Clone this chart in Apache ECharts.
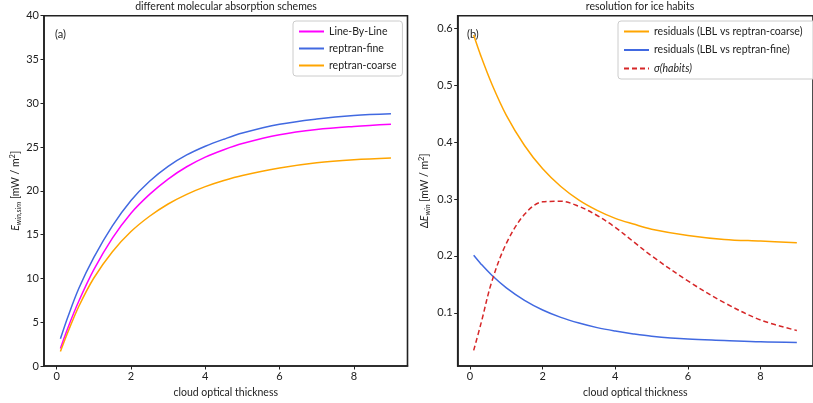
<!DOCTYPE html>
<html>
<head>
<meta charset="utf-8">
<script src="https://cdn.jsdelivr.net/npm/echarts@6/dist/echarts.min.js"></script>
<style>
html,body{margin:0;padding:0;background:#fff;}
#chart{width:813px;height:403px;}
</style>
</head>
<body>
<div id="chart"></div>
<script>
// cloud optical thickness samples
const tau = [0.1, 0.3, 0.6, 1, 1.5, 2, 2.5, 3, 3.5, 4, 4.5, 5, 6, 7, 8, 9];

// (a) E_win,sim [mW / m^2]
const lineByLine   = [2.0, 4.35, 7.45, 11.0, 14.6, 17.45, 19.6, 21.35, 22.75, 23.85, 24.7, 25.4, 26.4, 27.0, 27.35, 27.6];
const reptranFine  = [3.1, 5.6, 8.9, 12.4, 16.0, 18.9, 21.1, 22.8, 24.1, 25.1, 25.9, 26.6, 27.6, 28.2, 28.6, 28.8];
const reptranCoarse= [1.65, 3.85, 6.85, 10.05, 13.05, 15.35, 17.1, 18.5, 19.6, 20.48, 21.18, 21.75, 22.6, 23.2, 23.55, 23.75];

// (b) Delta E_win [mW / m^2]
const residCoarse  = [0.588, 0.551, 0.502, 0.447, 0.394, 0.353, 0.322, 0.298, 0.280, 0.266, 0.256, 0.247, 0.236, 0.229, 0.226, 0.223];
const residFine    = [0.201, 0.186, 0.166, 0.144, 0.122, 0.105, 0.092, 0.082, 0.074, 0.068, 0.063, 0.059, 0.054, 0.0515, 0.049, 0.048];
const sigmaHabits  = [0.034, 0.081, 0.155, 0.222, 0.273, 0.295, 0.296, 0.287, 0.271, 0.250, 0.225, 0.200, 0.156, 0.118, 0.0875, 0.069];

const xTicks  = [0, 2, 4, 6, 8];
const yTicksA = [0, 5, 10, 15, 20, 25, 30, 35, 40];
const yTicksB = [0.1, 0.2, 0.3, 0.4, 0.5, 0.6];

const pair = (xs, ys) => xs.map((x, i) => [x, ys[i]]);

const FONT = 'Lato';
const TXT = '#222';

function xAxis(gridIndex, min) {
  return {
    type: 'value', gridIndex, min, max: 9.445,
    name: 'cloud optical thickness', nameLocation: 'middle', nameGap: 21,
    nameTextStyle: {fontFamily: FONT, fontSize: 10.5, color: TXT},
    axisLine: {show: true, onZero: false, lineStyle: {color: '#222', width: 1.6}},
    axisTick: {show: true, length: 3.5, lineStyle: {color: '#222', width: 1}, customValues: xTicks},
    axisLabel: {fontFamily: FONT, fontSize: 11, color: TXT, margin: 5, customValues: xTicks},
    splitLine: {show: false}
  };
}
function yAxis(gridIndex, min, max, ticks, name, fmt) {
  return {
    type: 'value', gridIndex, min, max,
    name, nameLocation: 'middle', nameRotate: 90, nameGap: gridIndex === 0 ? 20 : 26,
    nameTextStyle: {fontFamily: FONT, fontSize: 10.5, color: TXT,
      rich: {
        i: {fontFamily: FONT, fontSize: 10.5, fontStyle: 'italic', color: TXT},
        sub: {fontFamily: FONT, fontSize: 7.5, fontStyle: 'italic', color: TXT, verticalAlign: 'bottom', padding: [6, 0, 0, 0]},
        sup: {fontFamily: FONT, fontSize: 7.5, color: TXT, verticalAlign: 'top', padding: [0, 0, 5, 0]},
        n: {fontFamily: FONT, fontSize: 10.5, color: TXT}
      }},
    axisLine: {show: true, onZero: false, lineStyle: {color: '#222', width: 1.6}},
    axisTick: {show: true, length: 3.5, lineStyle: {color: '#222', width: 1}, customValues: ticks},
    axisLabel: {fontFamily: FONT, fontSize: 11, color: TXT, margin: 5, customValues: ticks, formatter: fmt},
    splitLine: {show: false}
  };
}

function line(name, xi, data, color, dashed) {
  return {
    type: 'line', name, xAxisIndex: xi, yAxisIndex: xi,
    data, smooth: 0.35, showSymbol: false, symbol: 'none',
    lineStyle: {color, width: 1.5, type: dashed ? [5, 3] : 'solid'},
    itemStyle: {color},
    emphasis: {disabled: true}, animation: false
  };
}

const legendCommon = {
  orient: 'vertical', itemWidth: 25, itemHeight: 10,
  borderColor: '#ccc', borderWidth: 1, borderRadius: 3, backgroundColor: 'rgba(255,255,255,0.85)',
  itemStyle: {opacity: 0}
};

const chart = echarts.init(document.getElementById('chart'), null, {renderer: 'canvas'});
chart.setOption({
  animation: false,
  backgroundColor: '#fff',
  title: [
    {text: 'different molecular absorption schemes', left: 226, top: 1, padding: 0, textAlign: 'center',
     textStyle: {fontFamily: FONT, fontSize: 10.5, fontWeight: 'normal', color: TXT}},
    {text: 'resolution for ice habits', left: 640, top: 1, padding: 0, textAlign: 'center',
     textStyle: {fontFamily: FONT, fontSize: 10.5, fontWeight: 'normal', color: TXT}}
  ],
  grid: [
    {left: 44, top: 15.7, width: 363.5, height: 351.3, show: true, borderColor: '#222', borderWidth: 1.6, backgroundColor: 'transparent'},
    {left: 457.7, top: 15.7, width: 363.7, height: 351.3, show: true, borderColor: '#222', borderWidth: 1.6, backgroundColor: 'transparent'}
  ],
  xAxis: [xAxis(0, -0.342), xAxis(1, -0.34)],
  yAxis: [
    yAxis(0, 0, 40, yTicksA, '{i|E}{sub|win,sim}{n| [mW / m}{sup|2}{n|]}', v => String(v)),
    yAxis(1, 0.0066, 0.622, yTicksB, '{n|Δ}{i|E}{sub|win}{n| [mW / m}{sup|2}{n|]}', v => v.toFixed(1))
  ],
  legend: [
    Object.assign({}, legendCommon, {
      data: ['Line-By-Line', 'reptran-fine', 'reptran-coarse'], left: 293, top: 21, itemGap: 6,
      padding: [5, 6, 5, 5],
      textStyle: {fontFamily: FONT, fontSize: 10.5, color: TXT}}),
    Object.assign({}, legendCommon, {
      data: ['residuals (LBL vs reptran-coarse)', 'residuals (LBL vs reptran-fine)', 'σ(habits)'], left: 618, top: 21, itemGap: 7.5,
      padding: [5, 14, 5, 5],
      formatter: n => n === 'σ(habits)' ? '{i|σ(habits)}' : n,
      textStyle: {fontFamily: FONT, fontSize: 10.5, color: TXT,
        rich: {i: {fontFamily: FONT, fontSize: 10.5, fontStyle: 'italic', color: TXT}}}})
  ],
  graphic: [
    {type: 'text', left: 55, top: 29, style: {text: '(a)', font: '11px Lato', fill: TXT}},
    {type: 'text', left: 467, top: 29, style: {text: '(b)', font: '11px Lato', fill: TXT}}
  ],
  series: [
    line('Line-By-Line', 0, pair(tau, lineByLine), '#ff00ff'),
    line('reptran-fine', 0, pair(tau, reptranFine), '#4169e1'),
    line('reptran-coarse', 0, pair(tau, reptranCoarse), '#ffa500'),
    line('residuals (LBL vs reptran-coarse)', 1, pair(tau, residCoarse), '#ffa500'),
    line('residuals (LBL vs reptran-fine)', 1, pair(tau, residFine), '#4169e1'),
    line('σ(habits)', 1, pair(tau, sigmaHabits), '#d62728', true)
  ]
});
</script>
</body>
</html>
